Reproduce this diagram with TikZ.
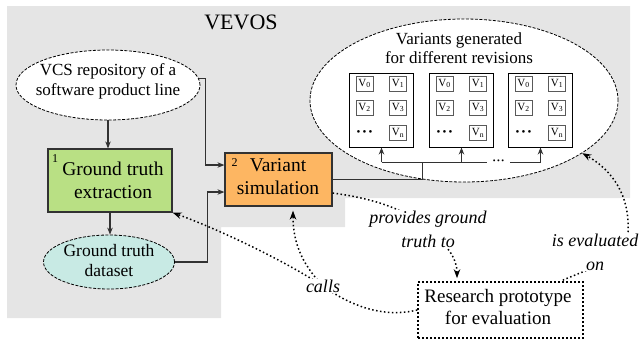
\documentclass[tikz,border=0pt]{standalone}
\usepackage{fontspec}
\setmainfont{Liberation Serif}
\usetikzlibrary{shapes.geometric,arrows.meta,calc}
\definecolor{bggrey}{RGB}{229,229,229}
\definecolor{boxgreen}{RGB}{185,224,132}
\definecolor{boxorange}{RGB}{253,182,98}
\definecolor{dsfill}{RGB}{200,234,228}
\definecolor{edgegrey}{RGB}{50,50,50}
\newcommand{\vsub}[1]{V\textsubscript{#1}}
\tikzset{
  ell/.style={ellipse, draw=black, dash pattern=on 3pt off 1.5pt, line width=0.8pt, fill=white, inner sep=0pt},
  elltext/.style={font=\fontsize{17}{20}\selectfont, align=center, inner sep=0pt},
  stepbox/.style={rectangle, draw=edgegrey, line width=1.2pt, inner sep=0pt},
  boxtext/.style={font=\fontsize{19.5}{23}\selectfont, align=center, inner sep=0pt},
  numtext/.style={font=\fontsize{12}{14}\selectfont, inner sep=0pt},
  panel/.style={rectangle, draw=black, line width=1pt, minimum width=64pt, minimum height=74pt, inner sep=0pt},
  vbox/.style={rectangle, draw=black!65, line width=0.9pt, minimum width=17pt, minimum height=15pt, inner sep=0pt, font=\fontsize{11}{12}\selectfont},
  solid line/.style={draw=edgegrey, line width=1.1pt},
  conn/.style={solid line, -{Stealth[length=7pt,width=5.5pt]}},
  dotconn/.style={draw=black, line width=1.5pt, dash pattern=on 1.5pt off 2.5pt, -{Stealth[length=9pt,width=6.5pt]}},
  lbl/.style={font=\fontsize{18}{24}\selectfont\itshape, align=center, fill=white, inner sep=1pt},
}
\begin{document}
\begin{tikzpicture}[x=1pt,y=-1pt]
\useasboundingbox (0,0) rectangle (642,341);
\fill[bggrey] (7,6) -- (630,6) -- (630,198) -- (345,198) -- (345,227) -- (221,227) -- (221,318) -- (7,318) -- cycle;
\node[font=\fontsize{22}{26}\selectfont, inner sep=0pt] (vevos) at (241,22.5) {VEVOS};

% left column
\node[ell, minimum width=184pt, minimum height=70pt] (vcs) at (108,85) {};
\node[elltext] (vcstext) at (108,81) {VCS repository of a\\software product line};
\node[stepbox, fill=boxgreen, minimum width=124pt, minimum height=63pt] (ext) at (110,180.5) {};
\node[boxtext] (exttext) at (113,180) {Ground truth\\extraction};
\node[numtext] (n1) at (55,159) {1};
\node[ell, fill=dsfill, minimum width=131pt, minimum height=54pt] (ds) at (109,262) {};
\node[elltext, font=\fontsize{17.5}{20}\selectfont] (dstext) at (109,261) {Ground truth\\dataset};

% simulation
\node[stepbox, fill=boxorange, minimum width=107pt, minimum height=53pt] (sim) at (278.5,179.5) {};
\node[boxtext] (simtext) at (278,177) {Variant\\simulation};
\node[numtext] (n2) at (234.5,162.5) {2};

% variants ellipse
\node[ell, minimum width=308pt, minimum height=163pt] (var) at (464,100.5) {};
\node[font=\fontsize{17}{19}\selectfont, align=center, inner sep=0pt] (vtitle) at (459,48) {Variants generated\\for different revisions};
\foreach \i/\cx in {1/381.5, 2/461.5, 3/540.5} {
  \node[panel] (p\i) at (\cx,110) {};
  \node[vbox] (p\i a) at (\cx-17,83.5) {\vsub{0}};
  \node[vbox] (p\i b) at (\cx+16.5,83.5) {\vsub{1}};
  \node[vbox] (p\i c) at (\cx-17,107.5) {\vsub{2}};
  \node[vbox] (p\i d) at (\cx+16.5,107.5) {\vsub{3}};
  \node[vbox] (p\i e) at (\cx+16.5,133) {\vsub{n}};
  \node[font=\fontsize{11}{12}\selectfont, inner sep=0pt] (p\i f) at (\cx-17,133.5) {\textbullet\hspace{2.2pt}\textbullet\hspace{2.2pt}\textbullet};
}

% solid connectors
\draw[conn] (vcs.south) -- (vcs.south |- ext.north);
\draw[conn] (ext.south) -- (ext.south |- ds.north);
\draw[conn] (vcs.4) -- ++(7,0) |- ($(sim.west)+(0,-14.5)$);
\draw[conn] (ds.east) -- ++(32.5,0) |- ($(sim.west)+(0,12.5)$);
\coordinate (hub) at (422,162);
\coordinate (gapl) at (487,162);
\coordinate (gapr) at (510,162);
\draw[solid line, line width=1pt] (sim.east) -| (hub);
\draw[solid line, line width=1pt] (p1.south |- hub) -- (gapl);
\draw[solid line, line width=1pt] (gapr) -- (p3.south |- hub);
\node[font=\fontsize{8}{9}\selectfont, inner sep=0pt] (hdots) at (498.5,161.5) {\textbullet\hspace{1.5pt}\textbullet\hspace{1.5pt}\textbullet};
\foreach \i in {1,2,3} {
  \draw[conn, line width=1pt] (p\i.south |- hub) -- (p\i.south);
}

% research prototype
\node[rectangle, draw=black, line width=1.6pt, dash pattern=on 1.6pt off 2.4pt, minimum width=165pt, minimum height=56pt, inner sep=0pt] (res) at (500.5,310) {};
\node[font=\fontsize{19}{22}\selectfont, align=center, inner sep=0pt] (restext) at (498,306.5) {Research prototype\\for evaluation};

% dotted connectors
\coordinate (callsc) at (323,286);
\coordinate (provc) at (428,229);
\coordinate (evalc) at (595,252);
\draw[dotconn] (res.west) .. controls (385,318) and (352,307) .. (callsc) .. controls (280,258) and (215,228) .. (ext.south east);
\draw[dotconn] (callsc) .. controls (300,262) and (293,240) .. ($(sim.south)+(14.5,4)$);
\draw[dotconn] ($(sim.east)+(0,13.5)$) .. controls (370,198) and (405,208) .. (provc) .. controls (447,245) and (457,258) .. ($(res.north)+(-43.5,-3)$);
\draw[dotconn] ($(res.north east)+(-21,-1)$) .. controls (580,272) and (620,262) .. (628,232) .. controls (630,195) and (612,170) .. (var.-24);

% labels
\node[lbl] (calls) at (callsc) {calls};
\node[lbl] (prov) at (provc) {provides ground\\truth to};
\node[lbl] (eval) at (evalc) {is evaluated\\on};
\end{tikzpicture}
\end{document}
